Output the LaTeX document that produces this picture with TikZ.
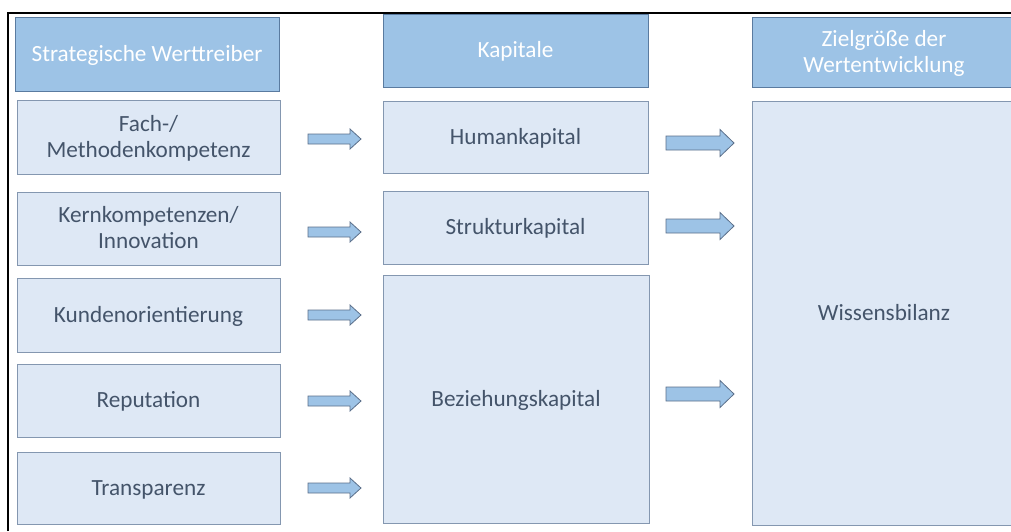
\documentclass[tikz,border=0pt]{standalone}
\usepackage{fontspec}
\setmainfont{Carlito}
\definecolor{hdrfill}{HTML}{9DC3E6}
\definecolor{hdrline}{HTML}{5A7BA0}
\definecolor{bodyfill}{HTML}{DEE8F5}
\definecolor{bodyline}{HTML}{8497B0}
\definecolor{bodytext}{HTML}{44546A}
\definecolor{arrfill}{HTML}{9DC3E6}
\definecolor{arrline}{HTML}{5B6F8A}
\newcommand\blkarrow[7]{% name x1 x2 yc shafthalf headhalf headlen
  \draw[arrst] (#2,#4-#5) -- (#3-#7,#4-#5) -- (#3-#7,#4-#6) -- (#3,#4) coordinate (#1)
    -- (#3-#7,#4+#6) -- (#3-#7,#4+#5) -- (#2,#4+#5) -- cycle;}
\newcommand\lowtx[1]{\raisebox{-2pt}[\height][\depth]{\begin{tabular}{@{}c@{}}#1\end{tabular}}}
\begin{document}
\begin{tikzpicture}[x=1pt,y=-1pt,
  hdr/.style={draw=hdrline, fill=hdrfill, text=white, align=center, inner sep=0pt,
    line width=1pt, font=\fontsize{23.2}{26}\selectfont},
  body/.style={draw=bodyline, fill=bodyfill, text=bodytext, align=center, inner sep=0pt,
    line width=1pt, font=\fontsize{23.2}{26}\selectfont},
  arrst/.style={draw=arrline, fill=arrfill, line width=0.8pt, line join=miter}]
\useasboundingbox (0,0) rectangle (1011,531);
\clip (0,0) rectangle (1011,531);
% headers
\node[hdr, minimum width=264pt, minimum height=74pt] (h1) at (147,54) {\lowtx{Strategische Werttreiber}};
\node[hdr, minimum width=265pt, minimum height=73pt] (h2) at (515.5,50.5) {\lowtx{Kapitale}};
\node[hdr, minimum width=264pt, minimum height=70pt] (h3) at (884,52) {\lowtx{Zielgröße der\\Wertentwicklung}};
% drivers
\node[body, minimum width=263pt, minimum height=74pt] (d1) at (148.5,137) {\lowtx{Fach-/\\Methodenkompetenz}};
\node[body, minimum width=263pt, minimum height=73pt] (d2) at (148.5,228.5) {\lowtx{Kernkompetenzen/\\Innovation}};
\node[body, minimum width=263pt, minimum height=74pt] (d3) at (148.5,315) {\lowtx{Kundenorientierung}};
\node[body, minimum width=263pt, minimum height=73pt] (d4) at (148.5,400.5) {\lowtx{Reputation}};
\node[body, minimum width=263pt, minimum height=72pt] (d5) at (148.5,488) {\lowtx{Transparenz}};
% capitals
\node[body, minimum width=265pt, minimum height=72pt] (k1) at (515.5,137) {\lowtx{Humankapital}};
\node[body, minimum width=265pt, minimum height=73pt] (k2) at (515.5,227.5) {\lowtx{Strukturkapital}};
\node[body, minimum width=266pt, minimum height=248pt] (k3) at (516,399) {\lowtx{Beziehungskapital}};
% target
\node[body, minimum width=264pt, minimum height=424pt] (w) at (884,313) {\lowtx{Wissensbilanz}};
% arrows
\blkarrow{a1}{308}{361}{139}{5}{10}{11}
\blkarrow{a2}{308}{361}{232}{5}{10}{11}
\blkarrow{a3}{308}{361}{315}{5}{10}{11}
\blkarrow{a4}{308}{361}{401}{5}{10}{11}
\blkarrow{a5}{308}{361}{488}{5}{10}{11}
\blkarrow{a6}{666}{734}{143}{7}{13.5}{14}
\blkarrow{a7}{666}{734}{226}{7}{13.5}{14}
\blkarrow{a8}{666}{734}{394}{7}{13.5}{14}
% frame
\draw[line width=2pt] (8,531) -- (8,13) -- (1011,13);
\end{tikzpicture}
\end{document}
